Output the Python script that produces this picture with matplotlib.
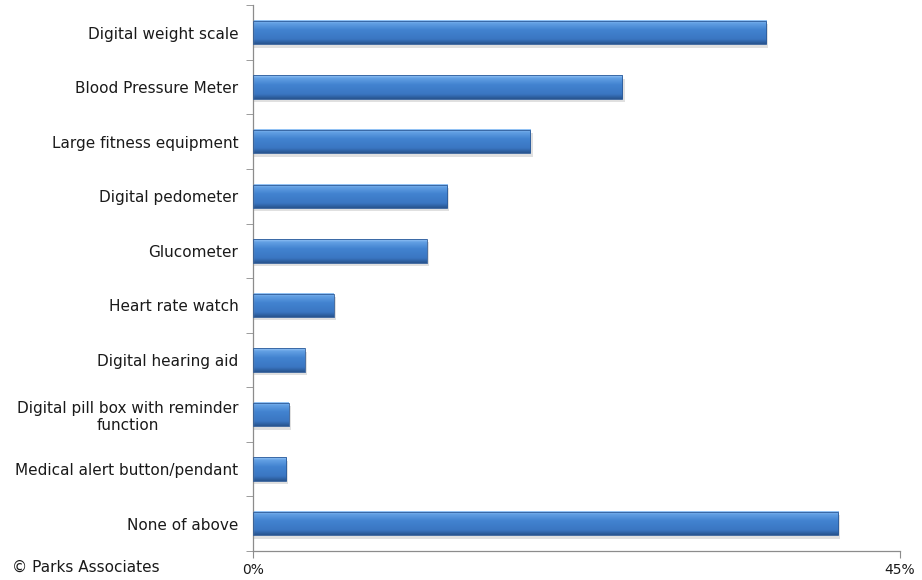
import matplotlib
matplotlib.use("Agg")
import matplotlib.pyplot as plt
import numpy as np
from matplotlib.colors import LinearSegmentedColormap

categories = ["Digital weight scale", "Blood Pressure Meter", "Large fitness equipment",
              "Digital pedometer", "Glucometer", "Heart rate watch", "Digital hearing aid",
              "Digital pill box with reminder\nfunction", "Medical alert button/pendant",
              "None of above"]
values = [35.7, 25.7, 19.3, 13.5, 12.1, 5.6, 3.6, 2.5, 2.3, 40.7]
xticks = [0, 45]
xticklabels = ["0%", "45%"]

plt.rcParams['font.family'] = ['DejaVu Sans']
fig = plt.figure(figsize=(9.22, 5.8), dpi=100)
ax = fig.add_axes([0.2744, 0.05, 0.7017, 0.941])

ypos = np.arange(len(categories))
h = 0.43
cmap = LinearSegmentedColormap.from_list("bar", [
    (0.0, "#9ac8f7"), (0.12, "#62a0e4"), (0.4, "#4283d0"),
    (0.8, "#3a76c2"), (1.0, "#28548f")])
grad = np.linspace(0, 1, 64).reshape(-1, 1)

for y, v in zip(ypos, values):
    ax.barh(y + 0.06, v + 0.15, height=h, color="#000000", alpha=0.12, zorder=1, lw=0)
    ax.imshow(grad, cmap=cmap, aspect="auto", extent=(0, v, y + h / 2, y - h / 2),
              zorder=2, interpolation="bilinear")
    ax.barh(y, v, height=h, facecolor="none", edgecolor="#2d5b98", lw=0.6, zorder=3)

ax.set_xlim(0, 45)
ax.set_ylim(len(categories) - 0.5, -0.5)

for s in ["top", "right"]:
    ax.spines[s].set_visible(False)
for s in ["left", "bottom"]:
    ax.spines[s].set_color("#8c8c8c")
    ax.spines[s].set_linewidth(0.9)

ax.set_yticks(ypos)
ax.set_yticklabels(categories, fontsize=11, color="#1a1a1a")
for lab in ax.get_yticklabels():
    lab.set_multialignment("center")
ax.tick_params(axis="y", which="major", length=0, pad=10.5)
ax.set_yticks(np.arange(-0.5, len(categories), 1), minor=True)
ax.tick_params(axis="y", which="minor", length=5, color="#8c8c8c", direction="out")

ax.set_xticks(xticks)
ax.set_xticklabels(xticklabels, fontsize=10, color="#1a1a1a")
ax.tick_params(axis="x", length=5, color="#8c8c8c", pad=4)

fig.text(0.013, 0.0085, "© Parks Associates", fontsize=11, color="#1a1a1a", ha="left", va="bottom")

fig.savefig("out.png", dpi=100)
